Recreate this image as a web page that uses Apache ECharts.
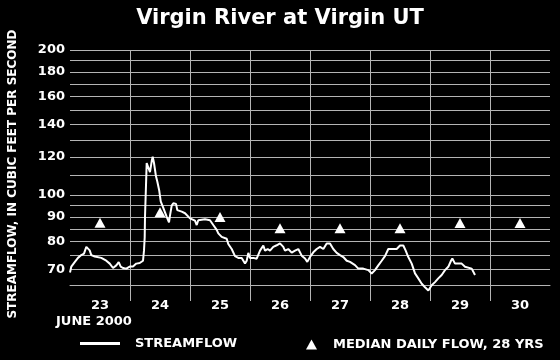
<!DOCTYPE html>
<html><head><meta charset="utf-8">
<script src="https://cdn.jsdelivr.net/npm/echarts@6/dist/echarts.min.js"></script>
<style>html,body{margin:0;padding:0;background:#000}#c{width:560px;height:360px}</style>
</head><body><div id="c"></div>
<script>
// ---- data ----
const dayLabels = ['23', '24', '25', '26', '27', '28', '29', '30'];
const medianFlow = [87.5, 92, 90, 85.3, 85.3, 85.3, 87.4, 87.4];
const yTickLabels = [70, 80, 90, 100, 120, 140, 160, 180, 200];
const yGridValues = [65, 70, 75, 80, 85, 90, 95, 100, 110, 120, 130, 140, 150, 160, 170, 180, 190, 200];
// days since 23 June 2000 00:00
const flowDays = [0, 0.022, 0.078, 0.133, 0.188, 0.233, 0.272, 0.300, 0.328, 0.355, 0.412, 0.522, 0.605, 0.662, 0.717, 0.772, 0.812, 0.845, 0.883, 0.938, 0.995,
  1.050, 1.105, 1.162, 1.217, 1.233, 1.245, 1.250, 1.267, 1.278, 1.305, 1.333, 1.362, 1.378, 1.400, 1.433, 1.455, 1.488, 1.512, 1.555, 1.612, 1.650, 1.667, 1.695, 1.722, 1.767, 1.788, 1.862, 1.917,
  2.000, 2.083, 2.112, 2.138, 2.250, 2.333, 2.362, 2.388, 2.445, 2.472, 2.528, 2.612, 2.638, 2.695, 2.750, 2.805, 2.862, 2.917, 2.945, 2.972,
  3.000, 3.055, 3.112, 3.167, 3.222, 3.250, 3.295, 3.333, 3.388, 3.445, 3.500, 3.555, 3.583, 3.638, 3.695, 3.750, 3.805, 3.862, 3.917, 3.955,
  4.000, 4.055, 4.112, 4.167, 4.222, 4.278, 4.333, 4.388, 4.445, 4.500, 4.555, 4.612, 4.667, 4.750, 4.805, 4.888, 4.972,
  5.028, 5.083, 5.138, 5.195, 5.250, 5.305, 5.445, 5.500, 5.555, 5.595, 5.638, 5.695, 5.750, 5.805, 5.862, 5.917, 5.972,
  6.028, 6.083, 6.138, 6.195, 6.250, 6.305, 6.350, 6.372, 6.417, 6.528, 6.583, 6.695, 6.750];
const flowCfs = [69, 71, 72.5, 74, 75, 75.5, 78, 78.5, 76.7, 75, 74.5, 74, 73, 72, 70.5, 71.4, 72.5, 71, 70.5, 70.3, 71,
  71, 72, 72.2, 73, 76.6, 81.7, 90, 105, 116.5, 115.6, 111.5, 117.6, 120, 116.5, 109.3, 106.6, 102, 97, 94, 90, 87.7, 90.7, 95, 96.1, 95.8, 93, 92.3, 91.6,
  89.4, 88.4, 86.6, 88.6, 89, 88.6, 89.2, 86.6, 84.6, 83.2, 81.8, 81.1, 79.1, 77.2, 74.6, 74, 74, 72, 73, 75.8,
  74, 74, 73.7, 76.6, 78.5, 76.6, 77.2, 76.6, 78, 78.6, 79.3, 78, 76.6, 77.2, 75.9, 76.6, 77.2, 74.8, 73.8, 72.6,
  74.3, 76, 77.2, 78, 77.2, 79.3, 79.3, 77.2, 75.8, 75, 74.3, 73, 72.6, 71.5, 70.3, 70.3, 69.8,
  68.7, 69.8, 71.4, 73, 74.6, 77.2, 77.2, 78.5, 78.5, 76.6, 74.3, 72, 68.7, 67.1, 65.4, 64.3, 63.3,
  64.9, 65.9, 67.1, 68.2, 69.8, 70.9, 73, 73.8, 72, 72, 70.9, 70.3, 68.2];

const L = Math.log10;
const gridColor = '#b4b4b4';
const font = 'DejaVu Sans';

const chart = echarts.init(document.getElementById('c'), null, {renderer: 'canvas'});
chart.setOption({
  backgroundColor: '#000',
  animation: false,
  grid: {left: 70, right: 10, top: 50, bottom: 75, containLabel: false},
  xAxis: {
    type: 'value', min: 0, max: 8,
    axisLine: {show: true, lineStyle: {color: gridColor, width: 1}},
    axisTick: {show: true, length: 16, customValues: [1, 2, 3, 4, 5, 6, 7], lineStyle: {color: gridColor}},
    splitLine: {show: true, lineStyle: {color: gridColor, width: 1}},
    axisLabel: {
      customValues: [0.5, 1.5, 2.5, 3.5, 4.5, 5.5, 6.5, 7.5],
      formatter: v => dayLabels[Math.floor(v)],
      color: '#fff', fontFamily: font, fontWeight: 'bold', fontSize: 13, margin: 14
    }
  },
  yAxis: {
    type: 'value', min: L(65), max: L(200),
    axisLine: {show: false},
    axisTick: {show: false, customValues: yGridValues.map(L)},
    splitLine: {show: true, lineStyle: {color: gridColor, width: 1}},
    axisLabel: {
      customValues: yTickLabels.map(L),
      formatter: v => String(Math.round(Math.pow(10, v))),
      color: '#fff', fontFamily: font, fontWeight: 'bold', fontSize: 13, margin: 5
    }
  },
  legend: [
    {data: [{name: 'STREAMFLOW', icon: 'rect'}], left: 80, top: 337, padding: 0, itemWidth: 40, itemHeight: 3,
     itemStyle: {color: '#fff', opacity: 1},
     textStyle: {color: '#fff', fontFamily: font, fontWeight: 'bold', fontSize: 13, padding: [0, 0, 0, 10]}},
    {data: ['MEDIAN DAILY FLOW, 28 YRS'], left: 306, top: 338, padding: 0, itemWidth: 11, itemHeight: 10,
     itemStyle: {color: '#fff', opacity: 1},
     textStyle: {color: '#fff', fontFamily: font, fontWeight: 'bold', fontSize: 13, padding: [3, 0, 0, 11]}}
  ],
  graphic: [
    {type: 'text', left: 'center', top: 8,
     style: {text: 'Virgin River at Virgin UT', fill: '#fff', font: 'bold 21px "DejaVu Sans"'}},
    {type: 'text', x: 7, y: 174, rotation: Math.PI / 2,
     style: {text: 'STREAMFLOW, IN CUBIC FEET PER SECOND', fill: '#fff', font: 'bold 12px "DejaVu Sans"', align: 'center', verticalAlign: 'top'}},
    {type: 'text', x: 56, y: 315,
     style: {text: 'JUNE 2000', fill: '#fff', font: 'bold 13px "DejaVu Sans"'}}
  ],
  series: [
    {name: 'STREAMFLOW', type: 'line', symbol: 'none', clip: false,
     data: flowDays.map((d, i) => [d, L(flowCfs[i])]),
     lineStyle: {color: '#fff', width: 2}, itemStyle: {color: '#fff'}},
    {name: 'MEDIAN DAILY FLOW, 28 YRS', type: 'scatter', symbol: 'triangle', symbolSize: [11, 10],
     data: medianFlow.map((v, i) => [i + 0.5, L(v)]),
     itemStyle: {color: '#fff', opacity: 1}}
  ]
});
</script></body></html>
